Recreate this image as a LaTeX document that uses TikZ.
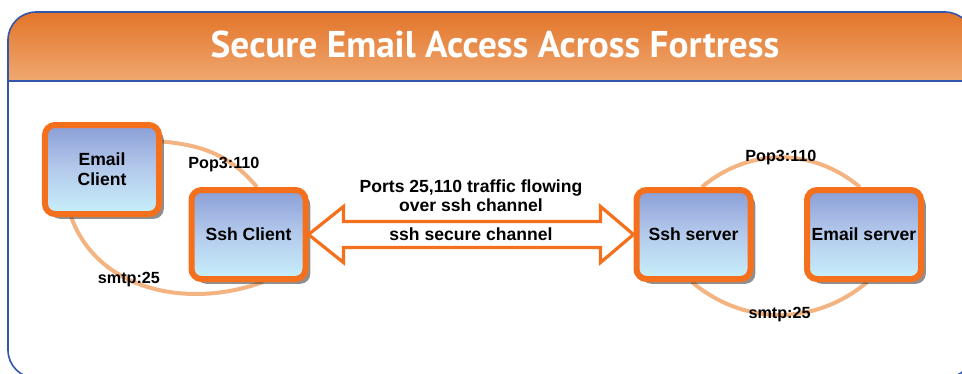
\documentclass[tikz,border=0pt]{standalone}
\usepackage{fontspec}
\usetikzlibrary{calc,shadows,backgrounds}
\newfontfamily\titlefont{PT Sans}
\newfontfamily\boxfont{Liberation Sans}
\definecolor{frameblue}{RGB}{52,86,170}
\definecolor{hdrtop}{RGB}{224,108,30}
\definecolor{hdrmid}{RGB}{230,125,55}
\definecolor{hdrbot}{RGB}{240,168,112}
\definecolor{boxedge}{RGB}{245,112,28}
\definecolor{boxtop}{RGB}{138,158,214}
\definecolor{boxmid}{RGB}{180,202,236}
\definecolor{boxbot}{RGB}{200,240,250}
\definecolor{linkcol}{RGB}{244,180,130}
\tikzset{
  host/.style={draw=boxedge, line width=1.5mm, rounded corners=2.5mm,
    minimum width=28.5mm, minimum height=22.25mm, align=center,
    top color=boxtop, bottom color=boxbot, middle color=boxmid,
    drop shadow={shadow xshift=1.2mm, shadow yshift=-1.2mm, opacity=0.55, fill=black!80},
    font=\boxfont\bfseries\fontsize{12.5}{14}\selectfont},
  port/.style={font=\boxfont\bfseries\fontsize{11.5}{13}\selectfont, inner sep=1pt},
  link/.style={draw=linkcol, line width=1mm},
  chan/.style={draw=boxedge, line width=0.8mm, fill=white},
}

\begin{document}
\begin{tikzpicture}[x=0.25mm, y=-0.25mm]
    \useasboundingbox (0,0) rectangle (962,373);
    \clip (0,0) rectangle (962,373);

    % title bar
    \begin{scope}
      \clip[rounded corners=7mm] (8,12) rectangle (973,378);
      \shade[top color=hdrtop, middle color=hdrmid, bottom color=hdrbot] (0,0) rectangle (980,81);
    \end{scope}
    \draw[frameblue, line width=0.4mm, rounded corners=7mm] (8,12) rectangle (973,378);
    \draw[frameblue, line width=0.4mm] (8,81) -- (973,81);
    \node[anchor=base, text=white, font=\titlefont\bfseries\fontsize{26.5}{30}\selectfont] (title) at (495,57) {Secure Email Access Across Fortress};

    \node[host] (eclient) at (102,169.5) {Email\\Client};
    \node[host] (sclient) at (248.5,234.5) {Ssh Client};
    \node[host] (sserver) at (693.5,234.5) {Ssh server};
    \node[host] (eserver) at (864,234.5) {Email server};

    \begin{scope}[on background layer]
      \draw[link] (eclient.25) to[out=-5,in=130] node[port, pos=0.6, yshift=-1.5mm] {Pop3:110} (sclient.80);
      \draw[link] (eclient.237) to[out=-70,in=-160] node[port, pos=0.4] {smtp:25} (sclient.-73);
      \draw[link] (sserver.80) to[out=40,in=140] node[port, pos=0.5] {Pop3:110} (eserver.95);
      \draw[link] (sserver.-92) to[out=-40,in=-140] node[port, pos=0.5] {smtp:25} (eserver.-86);
    \end{scope}

    % ssh channel
    \draw[chan] (sclient.east) -- ++(35,-28) |- ($(sserver.west)+(-33,-13)$) -- ++(0,-15)
      -- (sserver.west) -- ++(-33,28) -- ++(0,-15) -| ($(sclient.east)+(35,28)$) -- cycle;
    \node[port, font=\boxfont\bfseries\fontsize{12.5}{13.5}\selectfont, align=center] (traffic)
      at ($(sclient.east)!0.5!(sserver.west)+(0,-39)$) {Ports 25,110 traffic flowing\\over ssh channel};
    \node[port, font=\boxfont\bfseries\fontsize{12.5}{14}\selectfont] (secure)
      at ($(sclient.east)!0.5!(sserver.west)$) {ssh secure channel};
\end{tikzpicture}
\end{document}
